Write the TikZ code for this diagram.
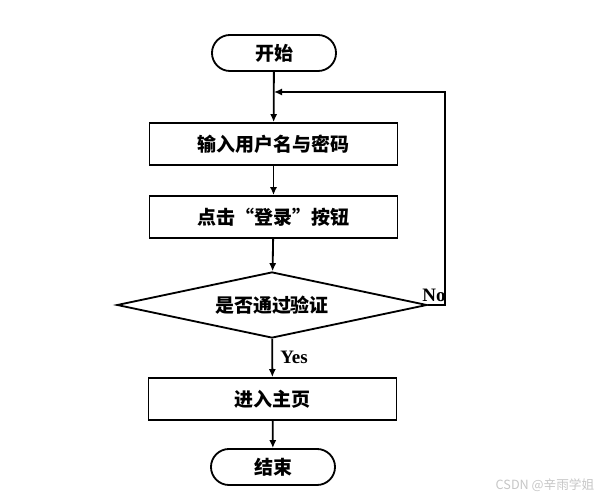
\documentclass[tikz,border=0pt]{standalone}
\usepackage{fontspec}
\newfontfamily\cjk{Noto Sans CJK SC}
\newfontfamily\latinfont{Liberation Serif}
\usetikzlibrary{shapes.geometric,arrows.meta}

\tikzset{
    terminal/.style={draw, line width=1.3pt, rectangle, rounded corners=0.45cm,
        minimum width=3.1cm, minimum height=0.9cm, inner sep=0pt,
        font=\cjk\bfseries\fontsize{13.5pt}{16pt}\selectfont},
    process/.style={draw, line width=1.3pt, rectangle,
        minimum width=6.2cm, minimum height=1.05cm, inner sep=0pt,
        font=\cjk\bfseries\fontsize{13.5pt}{16pt}\selectfont},
    decision/.style={draw, line width=1.3pt, diamond, aspect=4.7,
        minimum width=7.75cm, minimum height=1.65cm, inner sep=0pt,
        font=\cjk\bfseries\fontsize{13.5pt}{16pt}\selectfont},
    flow/.style={line width=1.3pt, -{Latex[length=2mm,width=1.8mm]}},
    branch/.style={font=\latinfont\bfseries\fontsize{13.5pt}{15pt}\selectfont, inner sep=0pt}
}

\begin{document}
\begin{tikzpicture}[x=0.025cm, y=-0.025cm]
    \useasboundingbox (0,0) rectangle (600,497);

    % Flow steps
    \node[terminal] (start) at (274,53) {开始};
    \node[process] (input) at (273.5,144) {输入用户名与密码};
    \node[process] (click) at (273.5,217) {点击“登录”按钮};
    \node[decision] (check) at (272,305) {是否通过验证};
    \node[process] (home) at (272.5,399) {进入主页};
    \node[terminal] (stop) at (273,467) {结束};

    % Connectors
    \draw[flow] (start) -- (input);
    \draw[flow] (input) -- (click);
    \draw[flow] (click) -- (check);
    \draw[flow] (check) -- (home);
    \draw[flow] (home) -- (stop);

    % Retry loop
    \coordinate (join) at (274,92);
    \draw[flow] (check.east) -- (445,305) |- (join);

    % Branch labels
    \node[branch] (no) at (434,295) {No};
    \node[branch] (yes) at (294,357) {Yes};

    % Watermark
    \node[text=gray!45, font=\cjk\fontsize{9pt}{10pt}\selectfont, inner sep=0pt] (mark) at (545,485) {CSDN @辛雨学姐};
\end{tikzpicture}
\end{document}
